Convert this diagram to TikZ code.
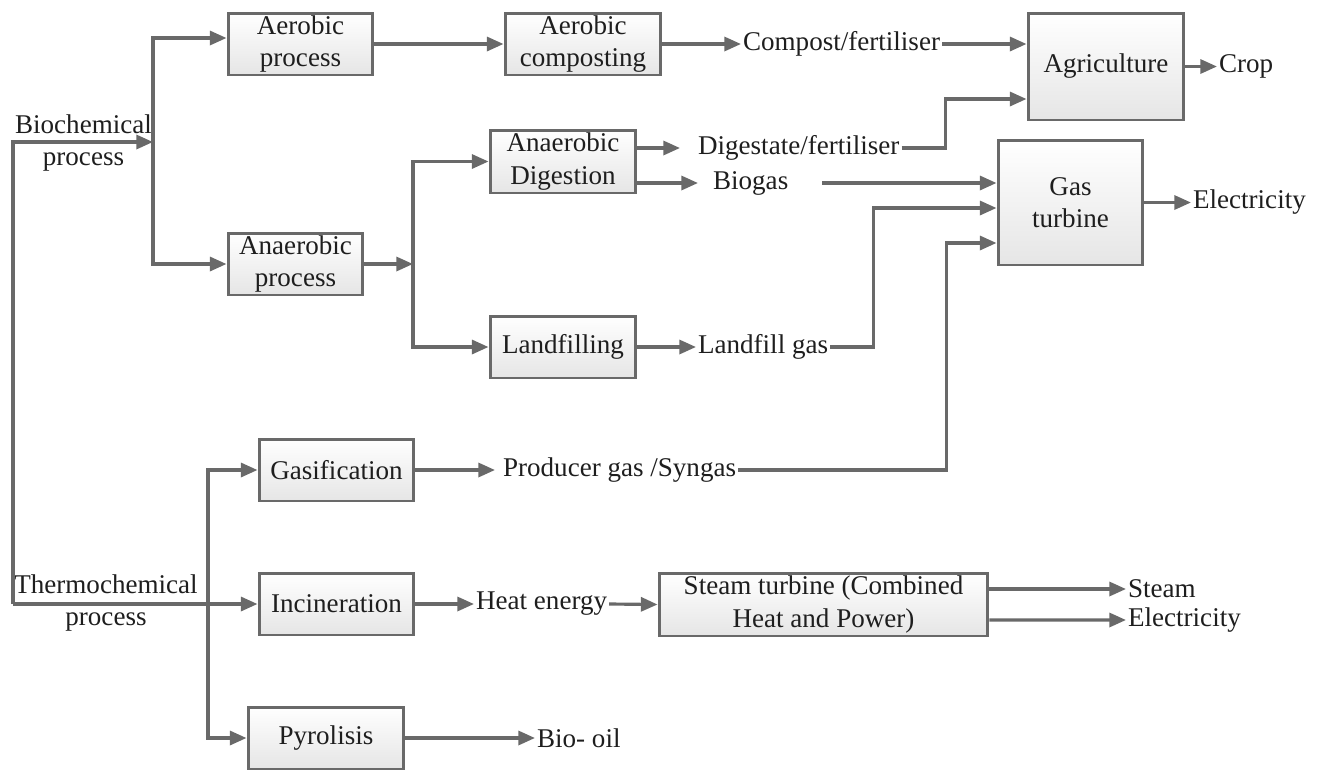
\documentclass[tikz,border=0pt]{standalone}
\usepackage{fontspec}
\setmainfont{Liberation Serif}
\usetikzlibrary{arrows.meta,calc}
\definecolor{lg}{RGB}{105,105,105}
\definecolor{tx}{RGB}{30,30,30}
\begin{document}
\begin{tikzpicture}[x=0.02cm,y=-0.02cm,
  every node/.style={font=\fontsize{15.4}{18.3}\selectfont, text=tx},
  box/.style={draw=lg, line width=1.7pt, top color=white, bottom color=black!10, align=center, inner sep=0pt},
  lbl/.style={inner sep=1pt, anchor=west},
  ln/.style={draw=lg, line width=1.8pt},
  arr/.style={ln, -{Triangle[length=9.5pt,width=8pt]}}]
\useasboundingbox (0,0) rectangle (1320,772);

% boxes
\node[box, minimum width=2.9cm, minimum height=1.24cm] (aerp) at (300.5,44) {Aerobic\\process};
\node[box, minimum width=3.12cm, minimum height=1.24cm] (aerc) at (583,44) {Aerobic\\composting};
\node[box, minimum width=3.12cm, minimum height=2.14cm] (agri) at (1106,66.5) {Agriculture};
\node[box, minimum width=2.9cm, minimum height=2.5cm] (gast) at (1070.5,202.5) {Gas\\turbine};
\node[box, minimum width=2.7cm, minimum height=1.24cm] (anp) at (295.5,264) {Anaerobic\\process};
\node[box, minimum width=2.92cm, minimum height=1.26cm] (anad) at (563,161.5) {Anaerobic\\Digestion};
\node[box, minimum width=2.92cm, minimum height=1.24cm] (land) at (563,347) {Landfilling};
\node[box, minimum width=3.1cm, minimum height=1.24cm] (gasf) at (336.5,470) {Gasification};
\node[box, minimum width=3.1cm, minimum height=1.24cm] (inc) at (336.5,604) {Incineration};
\node[box, minimum width=3.12cm, minimum height=1.24cm] (pyr) at (326,738) {Pyrolisis};
\node[box, minimum width=6.58cm, minimum height=1.26cm] (stm) at (823.5,604.5) {Steam turbine (Combined\\Heat and Power)};

% side labels
\node[align=center, inner sep=0pt] (bio) at (83.5,143) {Biochemical\\process};
\node[align=center, inner sep=0pt] (thermo) at (106,603) {Thermochemical\\process};

% product labels
\node[lbl] (compost) at (741,44) {Compost/fertiliser};
\node[lbl] (digest) at (696,148) {Digestate/fertiliser};
\node[lbl] (biogas) at (711,183) {Biogas};
\node[lbl] (lgas) at (696,347) {Landfill gas};
\node[lbl] (syngas) at (501,470) {Producer gas /Syngas};
\node[lbl] (crop) at (1217,66.5) {Crop};
\node[lbl] (elec1) at (1191,202.5) {Electricity};
\node[lbl] (heat) at (474,604) {Heat energy};
\node[lbl] (steam) at (1126,589) {Steam};
\node[lbl] (elec2) at (1126,620) {Electricity};
\node[lbl] (biooil) at (535,738) {Bio- oil};

% junction coordinates
\coordinate (trunkTop) at (13,142);
\coordinate (trunkBot) at (13,604);
\coordinate (bj) at (153,142);
\coordinate (tj) at (208,604);
\coordinate (aj) at (413,264);

% trunk
\draw[arr] (trunkBot) -- (trunkTop) -- (bj);
\draw[arr] (trunkBot) -- (inc.west);
\draw[arr] (bj) |- ($(aerp.west)+(0,-6)$);
\draw[arr] (bj) |- (anp.west);
\draw[arr] (tj) |- (gasf.west);
\draw[arr] (tj) |- (pyr.west);

% aerobic chain
\draw[arr] (aerp.east) -- (aerc.west);
\draw[arr] (aerc.east) -- (compost.west);
\draw[arr] (compost.east) -- (compost.east -| agri.west);
\draw[arr] (agri.east) -- (crop.west);

% anaerobic chain
\draw[arr] (anp.east) -- (aj);
\draw[arr] (aj) |- (anad.west);
\draw[arr] (aj) |- (land.west);
\draw[arr] (anad.east |- digest.west) -- ($(digest.west)+(-16,0)$);
\draw[arr] (anad.east |- biogas.west) -- ($(biogas.west)+(-13,0)$);
\draw[arr] (digest.east) -- ++(44,0) |- ($(agri.west)+(0,32.5)$);
\draw[arr] ($(biogas.east)+(32,0)$) -- (biogas.east -| gast.west);
\draw[arr] (land.east) -- (lgas.west);
\draw[arr] (lgas.east) -- ++(43,0) |- ($(gast.west)+(0,5.5)$);
\draw[arr] (gast.east) -- (elec1.west);

% thermochemical chain
\draw[arr] (gasf.east) -- ($(syngas.west)+(-6,0)$);
\draw[arr] (syngas.east) -- ++(208,0) |- ($(gast.west)+(0,40.5)$);
\draw[arr] (inc.east) -- (heat.west);
\draw[arr] (heat.east) -- (stm.west);
\draw[arr] ($(stm.east)+(0,-15.5)$) -- (steam.west |- 0,589);
\draw[arr] ($(stm.east)+(0,15.5)$) -- (elec2.west |- 0,620);
\draw[arr] (pyr.east) -- (biooil.west);
\end{tikzpicture}
\end{document}
